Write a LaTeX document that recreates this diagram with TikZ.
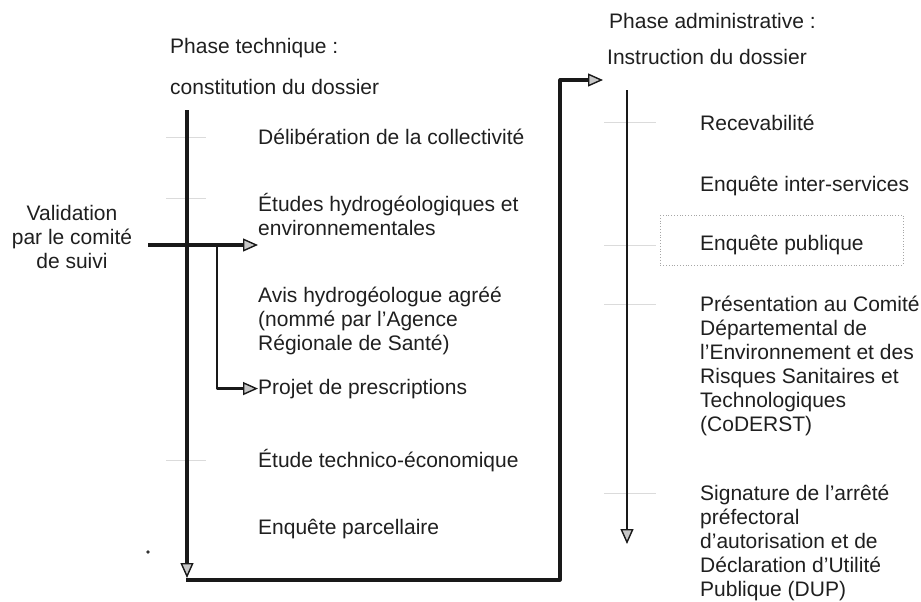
\documentclass[tikz,border=0pt]{standalone}
\usepackage{fontspec}
\setmainfont{Liberation Sans}
\usetikzlibrary{arrows.meta}

\begin{document}
\begin{tikzpicture}[x=1pt, y=-1pt, line join=round,
  txt/.style={anchor=base west, align=left, inner sep=0pt, text=black!88,
    font=\fontsize{21}{24}\selectfont},
  flow/.style={draw=black!90, line width=3.2pt},
  thin flow/.style={draw=black!90, line width=2.4pt},
  tri/.style={-{Triangle[length=15pt, width=13pt, line width=1.4pt, fill=black!22]}},
  ghost/.style={draw=black!14, line width=0.8pt}]

\useasboundingbox (0,0) rectangle (921,602);

% phase technique (base = last line)
\node (titleL) at (170,54) [txt] {Phase technique :};
\node (titleL2) at (170,94) [txt] {constitution du dossier};

\node (delib) at (258,144) [txt] {Délibération de la collectivité};
\node (etudes) at (258,235) [txt] {Études hydrogéologiques et\\environnementales};
\node (avis) at (258,350) [txt] {Avis hydrogéologue agréé\\(nommé par l’Agence\\Régionale de Santé)};
\node (projet) at (258,394) [txt] {Projet de prescriptions};
\node (technico) at (258,467) [txt] {Étude technico-économique};
\node (parcel) at (258,534) [txt] {Enquête parcellaire};

\node (valid) at (72,268) [txt, anchor=base, align=center] {Validation\\par le comité\\de suivi};

% phase administrative
\node (titleR) at (609,29) [txt] {Phase administrative :};
\node (instr) at (607,65) [txt] {Instruction du dossier};

\node (recev) at (700,130) [txt] {Recevabilité};
\node (inter) at (700,191) [txt] {Enquête inter-services};
\node (public) at (700,250) [txt] {Enquête publique};
\node (coderst) at (700,431) [txt] {Présentation au Comité\\Départemental de\\l’Environnement et des\\Risques Sanitaires et\\Technologiques\\(CoDERST)};
\node (dup) at (700,596) [txt] {Signature de l’arrêté\\préfectoral\\d’autorisation et de\\Déclaration d’Utilité\\Publique (DUP)};

\draw[black!35, dotted, line width=0.8pt] (660,215) rectangle (903,265);

% faint ticks
\foreach \y in {122, 245, 304, 493}
  \draw[ghost] (604,\y) -- +(52,0);
\foreach \y in {137, 198, 460}
  \draw[ghost] (166,\y) -- +(40,0);

% connectors
\coordinate (topL) at (187,110);
\coordinate (botL) at (187,578);
\coordinate (vstart) at (148,245);
\coordinate (fork) at (217,245);
\coordinate (corner1) at (186,580);
\coordinate (corner2) at (560,580);
\coordinate (corner3) at (560,80);
\coordinate (tipR) at (603,80);
\coordinate (topR) at (627,90);
\coordinate (botR) at (627,544);

\draw[flow, tri] (topL) -- (botL);
\draw[flow, tri] (vstart) -- (vstart -| etudes.west);
\draw[thin flow, tri] (fork) |- (projet.west);
\draw[flow, tri] (corner1) -- (corner2) -- (corner3) -- (tipR);
\draw[thin flow, tri] (topR) -- (botR);

\fill[black!80] (148,552) circle (1.8);

\end{tikzpicture}
\end{document}
